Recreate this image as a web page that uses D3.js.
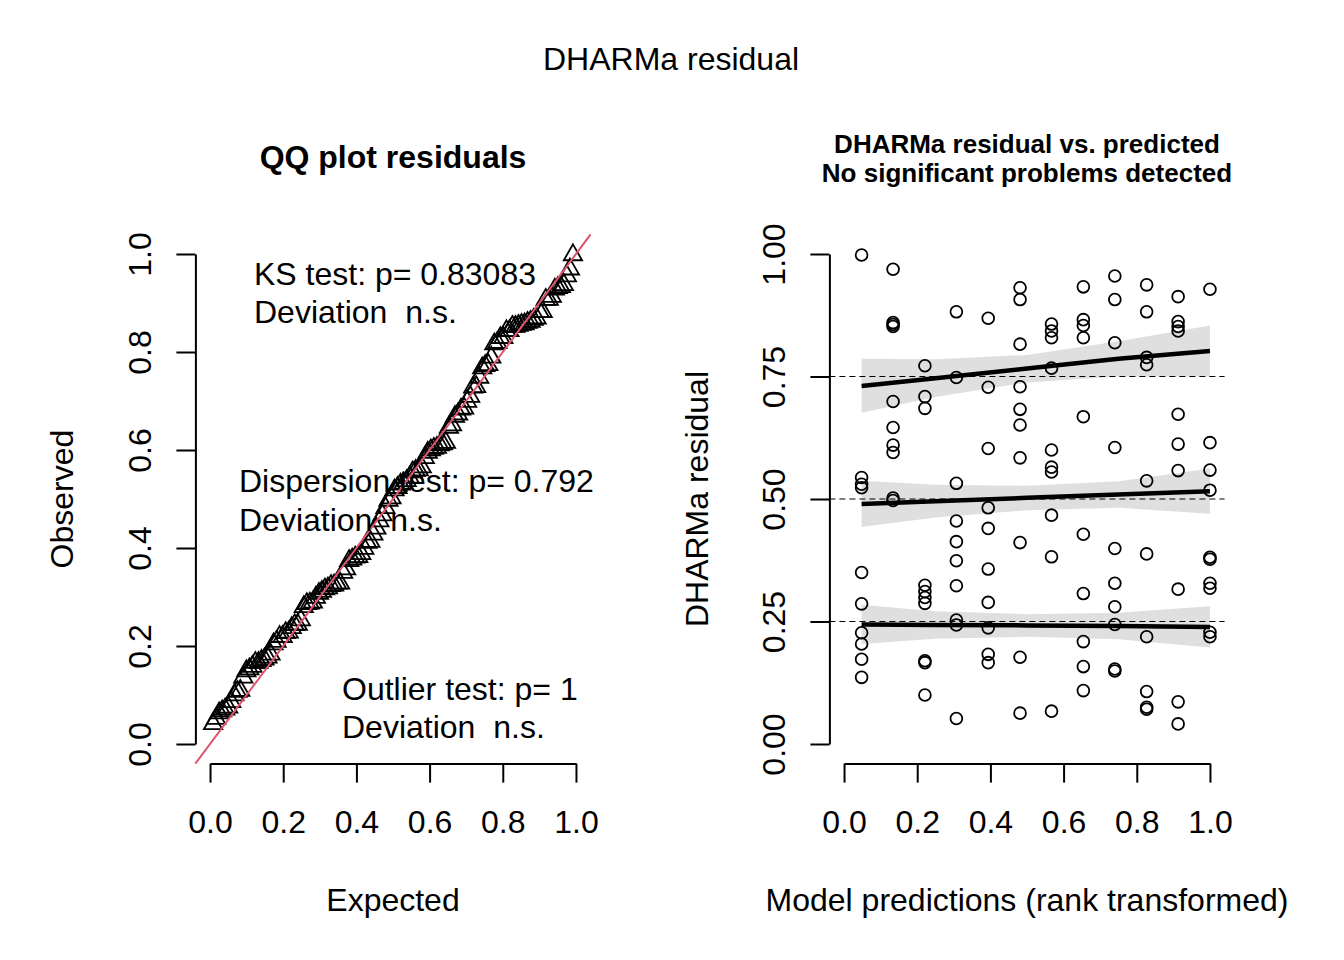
<!DOCTYPE html>
<html>
<head>
<meta charset="utf-8">
<script src="https://cdn.jsdelivr.net/npm/d3@7"></script>
<style>
  body { margin: 0; background: #fff; }
  text { font-family: "Liberation Sans", Arial, sans-serif; white-space: pre; }
</style>
</head>
<body>
<script>
var W = 1344, H = 960;
var fontSize = 32;

// rank transformed model predictions (12 groups)
var predX = [0.048, 0.134, 0.221, 0.307, 0.394, 0.481, 0.567, 0.654, 0.740, 0.827, 0.913, 1.000];

// scaled residuals per prediction group
var resid0  = [0.998, 0.544, 0.530, 0.523, 0.350, 0.286, 0.227, 0.204, 0.173, 0.136];
var resid1  = [0.969, 0.860, 0.856, 0.852, 0.699, 0.646, 0.610, 0.595, 0.502, 0.497];
var resid2  = [0.772, 0.709, 0.685, 0.324, 0.311, 0.299, 0.287, 0.170, 0.166, 0.100];
var resid3  = [0.882, 0.748, 0.532, 0.455, 0.413, 0.374, 0.323, 0.253, 0.243, 0.052];
var resid4  = [0.869, 0.728, 0.603, 0.482, 0.440, 0.357, 0.289, 0.237, 0.183, 0.166];
var resid5  = [0.931, 0.907, 0.816, 0.729, 0.683, 0.651, 0.584, 0.411, 0.177, 0.063];
var resid6  = [0.857, 0.843, 0.829, 0.767, 0.600, 0.565, 0.555, 0.467, 0.382, 0.067];
var resid7  = [0.933, 0.866, 0.854, 0.829, 0.668, 0.428, 0.307, 0.209, 0.158, 0.109];
var resid8  = [0.955, 0.907, 0.819, 0.605, 0.399, 0.328, 0.280, 0.244, 0.153, 0.149];
var resid9  = [0.937, 0.882, 0.789, 0.774, 0.537, 0.388, 0.219, 0.107, 0.075, 0.071];
var resid10 = [0.913, 0.862, 0.852, 0.843, 0.673, 0.612, 0.558, 0.316, 0.086, 0.041];
var resid11 = [0.928, 0.615, 0.559, 0.518, 0.381, 0.377, 0.328, 0.318, 0.228, 0.219];
var residGroups = [resid0, resid1, resid2, resid3, resid4, resid5, resid6, resid7, resid8, resid9, resid10, resid11];

// quantile regression fits and confidence bands
var bandX   = [0.048, 0.25, 0.5, 0.75, 1.0];
var q25Fit  = [0.244, 0.243, 0.242, 0.241, 0.239];
var q25Low  = [0.204, 0.215, 0.219, 0.214, 0.197];
var q25High = [0.284, 0.271, 0.265, 0.268, 0.281];
var q50Fit  = [0.490, 0.4955, 0.5024, 0.509, 0.516];
var q50Low  = [0.443, 0.462, 0.477, 0.482, 0.470];
var q50High = [0.537, 0.529, 0.527, 0.536, 0.562];
var q75Fit  = [0.7306, 0.7465, 0.7662, 0.786, 0.802];
var q75Low  = [0.676, 0.708, 0.738, 0.750, 0.750];
var q75High = [0.786, 0.785, 0.794, 0.822, 0.854];
var hLines  = [0.25, 0.5, 0.75];

var xTicks = [0, 0.2, 0.4, 0.6, 0.8, 1.0];
var yTicksQQ = [0, 0.2, 0.4, 0.6, 0.8, 1.0];
var yTicksRes = [0, 0.25, 0.5, 0.75, 1.0];

var ksText = ["KS test: p= 0.83083", "Deviation  n.s."];
var dispText = ["Dispersion test: p= 0.792", "Deviation  n.s."];
var outText = ["Outlier test: p= 1", "Deviation  n.s."];

var svg = d3.select("body").append("svg")
    .attr("width", W)
    .attr("height", H);

// plot regions (R style 4% extension)
var xL = d3.scaleLinear().domain([-0.04, 1.04]).range([195.4, 590.6]);
var yL = d3.scaleLinear().domain([-0.04, 1.04]).range([763.6, 234.4]);
var xR = d3.scaleLinear().domain([-0.04, 1.04]).range([829.4, 1224.6]);
var yR = d3.scaleLinear().domain([-0.04, 1.04]).range([763.6, 234.4]);

function addText(x, y, str, opts) {
    opts = opts || {};
    var t = svg.append("text")
        .attr("x", x).attr("y", y)
        .attr("font-size", opts.size || fontSize)
        .attr("font-weight", opts.bold ? "bold" : "normal")
        .attr("text-anchor", opts.anchor || "middle")
        .attr("fill", "#000")
        .text(str);
    if (opts.rotate) t.attr("transform", "rotate(-90," + x + "," + y + ")");
    return t;
}

function drawAxes(xs, ys, yTicks, yFmt) {
    var xSub = d3.scaleLinear().domain([0, 1]).range([xs(0), xs(1)]);
    var ySub = d3.scaleLinear().domain([0, 1]).range([ys(0), ys(1)]);

    var gx = svg.append("g")
        .attr("transform", "translate(0," + ys.range()[0] + ")")
        .call(d3.axisBottom(xSub).tickValues(xTicks).tickFormat(d3.format(".1f"))
            .tickSize(19).tickSizeOuter(0));
    var gy = svg.append("g")
        .attr("transform", "translate(" + xs.range()[0] + ",0)")
        .call(d3.axisLeft(ySub).tickValues(yTicks).tickFormat(d3.format(yFmt))
            .tickSize(19).tickSizeOuter(0));

    [gx, gy].forEach(function(g) {
        g.selectAll("path, line").attr("stroke", "#000").attr("stroke-width", 2);
        g.selectAll("text").attr("font-size", fontSize)
            .attr("font-family", "Liberation Sans, Arial, sans-serif")
            .attr("fill", "#000");
    });
    gx.selectAll("text").attr("y", 69).attr("dy", 0);
    gy.selectAll("text")
        .attr("x", 0).attr("dy", 0)
        .attr("text-anchor", "middle")
        .attr("transform", "translate(-44.5,0) rotate(-90)");
}

function trianglePath(r) {
    var xc = 1.347 * r, top = 1.555 * r, bot = 0.778 * r;
    return "M0," + (-top) + "L" + xc + "," + bot + "L" + (-xc) + "," + bot + "Z";
}

function renderQQ() {
    var all = [];
    residGroups.forEach(function(g) { all = all.concat(g); });
    var sorted = all.slice().sort(d3.ascending);
    var n = sorted.length;
    var qq = sorted.map(function(v, i) { return { e: (i + 1) / (n + 1), o: v }; });

    svg.append("g").selectAll("path").data(qq).enter().append("path")
        .attr("d", trianglePath(6.8))
        .attr("transform", function(d) { return "translate(" + xL(d.e) + "," + yL(d.o) + ")"; })
        .attr("fill", "none")
        .attr("stroke", "#000")
        .attr("stroke-width", 1.8);

    svg.append("line")
        .attr("x1", xL(-0.04)).attr("y1", yL(-0.04))
        .attr("x2", xL(1.04)).attr("y2", yL(1.04))
        .attr("stroke", "#DF536B").attr("stroke-width", 2);

    drawAxes(xL, yL, yTicksQQ, ".1f");

    addText(254, 285, ksText[0], { anchor: "start" });
    addText(254, 323, ksText[1], { anchor: "start" });
    addText(239, 492, dispText[0], { anchor: "start" });
    addText(239, 531, dispText[1], { anchor: "start" });
    addText(342, 700, outText[0], { anchor: "start" });
    addText(342, 738, outText[1], { anchor: "start" });

    addText(393, 168, "QQ plot residuals", { bold: true, size: 32 });
    addText(393, 911, "Expected");
    addText(73, 499, "Observed", { rotate: true });
}

function renderResid() {
    var pts = [];
    residGroups.forEach(function(g, i) {
        g.forEach(function(v) { pts.push({ x: predX[i], y: v }); });
    });

    svg.append("g").selectAll("circle").data(pts).enter().append("circle")
        .attr("cx", function(d) { return xR(d.x); })
        .attr("cy", function(d) { return yR(d.y); })
        .attr("r", 5.9)
        .attr("fill", "none")
        .attr("stroke", "#000")
        .attr("stroke-width", 1.8);

    svg.append("g").selectAll("line").data(hLines).enter().append("line")
        .attr("x1", xR.range()[0]).attr("x2", xR.range()[1])
        .attr("y1", function(d) { return yR(d); })
        .attr("y2", function(d) { return yR(d); })
        .attr("stroke", "#000").attr("stroke-width", 1)
        .attr("stroke-dasharray", "6,4");

    var fits = [
        { fit: q25Fit, lo: q25Low, hi: q25High },
        { fit: q50Fit, lo: q50Low, hi: q50High },
        { fit: q75Fit, lo: q75Low, hi: q75High }
    ];
    var area = d3.area()
        .x(function(d) { return xR(d.x); })
        .y0(function(d) { return yR(d.lo); })
        .y1(function(d) { return yR(d.hi); });
    var line = d3.line()
        .x(function(d) { return xR(d.x); })
        .y(function(d) { return yR(d.fit); });

    fits.forEach(function(f) {
        var rows = bandX.map(function(x, i) { return { x: x, fit: f.fit[i], lo: f.lo[i], hi: f.hi[i] }; });
        svg.append("path").datum(rows)
            .attr("d", area)
            .attr("fill", "rgba(0,0,0,0.125)")
            .attr("stroke", "none");
        svg.append("path").datum(rows)
            .attr("d", line)
            .attr("fill", "none")
            .attr("stroke", "#000")
            .attr("stroke-width", 4.5);
    });

    drawAxes(xR, yR, yTicksRes, ".2f");

    addText(1027, 153, "DHARMa residual vs. predicted", { bold: true, size: 26 });
    addText(1027, 182, "No significant problems detected", { bold: true, size: 26 });
    addText(1027, 911, "Model predictions (rank transformed)");
    addText(708, 499, "DHARMa residual", { rotate: true });
}

addText(671, 70, "DHARMa residual");
renderQQ();
renderResid();
</script>
</body>
</html>
